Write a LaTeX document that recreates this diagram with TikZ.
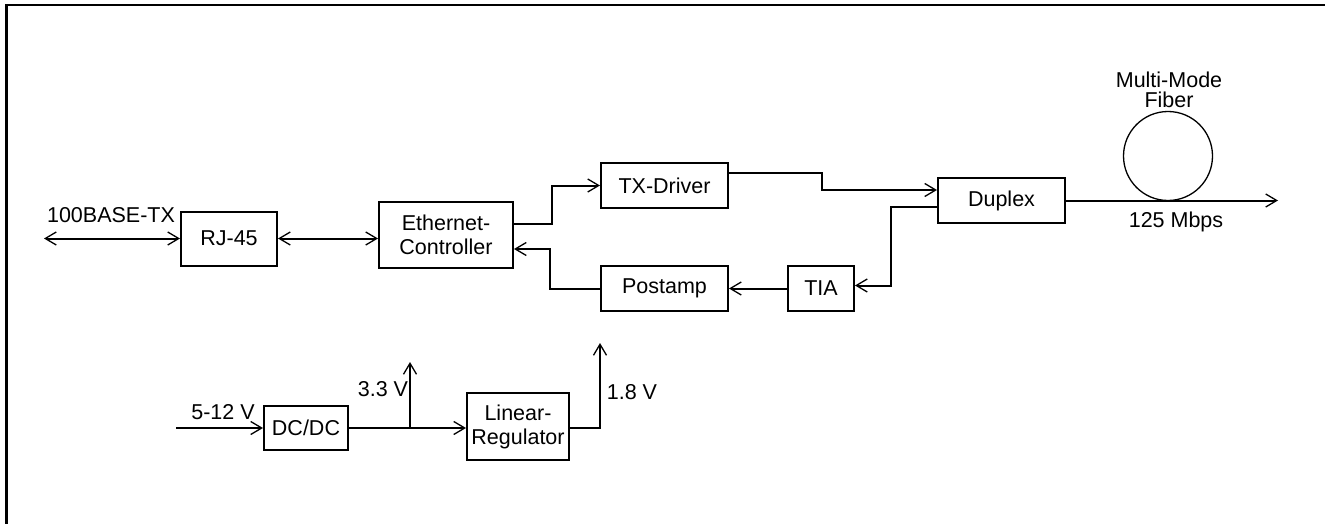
\documentclass[tikz,border=0pt]{standalone}
\usepackage{fontspec}
\setmainfont{Liberation Sans}
\usetikzlibrary{arrows.meta}
\begin{document}
\begin{tikzpicture}[x=1pt,y=-1pt,
  font=\fontsize{21.5}{24}\selectfont,
  blk/.style={draw,line width=2pt,inner sep=0pt,align=center},
  wire/.style={line width=2pt},
  arr/.style={wire,-{Straight Barb[length=11pt,width=13pt,line width=1.3pt]}},
  darr/.style={wire,{Straight Barb[length=11pt,width=13pt,line width=1.3pt]}-{Straight Barb[length=11pt,width=13pt,line width=1.3pt]}},
  lbl/.style={inner sep=0pt,align=center}]
\useasboundingbox (0,0) rectangle (1325,524);
\draw[line width=2.5pt] (6.5,524) -- (6.5,5) -- (1325,5);

% blocks
\node[blk,minimum width=96pt,minimum height=54pt] (rj) at (229,238.5) {RJ-45};
\node[blk,minimum width=134pt,minimum height=66pt] (eth) at (446,235) {Ethernet-\\Controller};
\node[blk,minimum width=127pt,minimum height=45pt] (txd) at (664.5,185.5) {TX-Driver};
\node[blk,minimum width=127pt,minimum height=45pt] (post) at (664.5,288.5) {Postamp};
\node[blk,minimum width=66pt,minimum height=45pt] (tia) at (821,288.5) {TIA};
\node[blk,minimum width=127pt,minimum height=45pt] (dup) at (1001.5,200.5) {Duplex};
\node[blk,minimum width=84pt,minimum height=44pt] (dcdc) at (306,428) {DC/DC};
\node[blk,minimum width=102pt,minimum height=67pt] (lin) at (518,426.5) {Linear-\\Regulator};

% fiber
\node[draw,circle,line width=1.3pt,minimum size=89pt,inner sep=0pt] (fib) at (1168,156) {};
\node[lbl,font=\fontsize{21.5}{20}\selectfont] (fibt) at (1169,90) {Multi-Mode\\Fiber};
\node[lbl] (rate) at (1176,222) {125 Mbps};

% free ends
\coordinate (txin) at (44,238.5);
\coordinate (fout) at (1278,200.5);
\coordinate (vin) at (176,428);
\coordinate (br) at (410,428);
\coordinate (v33) at (410,362);
\coordinate (v18) at (600,343);

% labels
\node[lbl] (tx) at (111,215) {100BASE-TX};
\node[lbl] (l512) at (223,412) {5-12 V};
\node[lbl] (l33) at (383,389) {3.3 V};
\node[lbl] (l18) at (632,392) {1.8 V};

% connectors
\draw[darr] (txin) -- (rj.west);
\draw[darr] (rj.east) -- (rj.east -| eth.west);
\draw[arr] ([yshift=11pt]eth.east) -- ++(38,0) |- (txd.west);
\draw[arr] (post.west) -- ++(-50,0) |- ([yshift=-14pt]eth.east);
\draw[arr] ([yshift=12.5pt]txd.east) -- ++(93,0) |- ([yshift=10.5pt]dup.west);
\draw[arr] ([yshift=-6.5pt]dup.west) -- ++(-46,0) |- ([yshift=3pt]tia.east);
\draw[arr] (tia.west) -- (post.east);
\draw[arr] (dup.east) -- (fout);

\draw[arr] (vin) -- (dcdc.west);
\draw[arr] (dcdc.east) -- (dcdc.east -| lin.west);
\draw[arr] (br) -- (v33);
\draw[arr] ([yshift=-1.5pt]lin.east) -| (v18);
\end{tikzpicture}
\end{document}
